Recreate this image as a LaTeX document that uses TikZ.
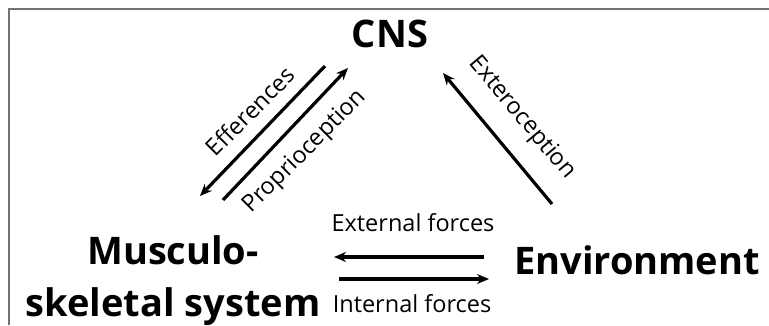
\documentclass[tikz,border=0pt]{standalone}
\usepackage{fontspec}
\setmainfont{Open Sans}
\usetikzlibrary{arrows.meta}
\begin{document}
\begin{tikzpicture}[x=1pt,y=-1pt,
  title/.style={font=\fontsize{38}{44}\selectfont\bfseries, inner sep=0pt, anchor=base},
  label/.style={font=\fontsize{23.5}{28}\selectfont, inner sep=0pt},
  flow/.style={line width=3.2pt, -{Stealth[length=12pt,width=10pt]}},
  frame/.style={draw=black!55, line width=2pt}]
\useasboundingbox (0,0) rectangle (769,325);
% frame along the top and left edges
\draw[frame] (9,325) -- (9,9) -- (769,9);

% main blocks
\node[title] (cns) at (390,47) {CNS};
\node[title] (musc1) at (173,264) {Musculo-};
\node[title] (musc2) at (173,316) {skeletal system};
\node[title] (env) at (637,274) {Environment};

% connector end points
\coordinate (effS) at (325,66);
\coordinate (effE) at (200,196);
\coordinate (proS) at (223,200);
\coordinate (proE) at (348,68);
\coordinate (extS) at (552,204);
\coordinate (extE) at (443,73);
\coordinate (exfS) at (484,257);
\coordinate (exfE) at (334,257);
\coordinate (infS) at (339,279);
\coordinate (infE) at (489,279);

\draw[flow] (effS) -- (effE);
\draw[flow] (proS) -- (proE);
\draw[flow] (extS) -- (extE);
\draw[flow] (exfS) -- (exfE);
\draw[flow] (infS) -- (infE);

% connector labels
\node[label, rotate=45] (leff) at (250,111) {Efferences};
\node[label, rotate=45] (lpro) at (305,152) {Proprioception};
\node[label, rotate=-50] (lext) at (522,118) {Exteroception};
\node[label, anchor=base] (lexf) at (413,231) {External forces};
\node[label, anchor=base] (linf) at (412,312) {Internal forces};
\end{tikzpicture}
\end{document}
